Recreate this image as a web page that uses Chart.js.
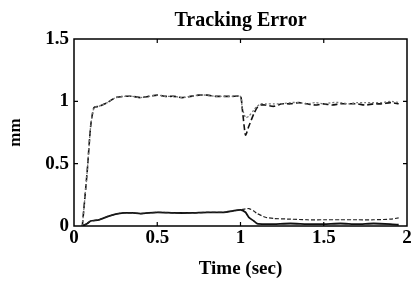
<!DOCTYPE html>
<html>
<head>
<meta charset="utf-8">
<script src="https://cdn.jsdelivr.net/npm/chart.js@4.4.1/dist/chart.umd.min.js"></script>
<style>
  body { margin: 0; background: #fff; }
  #chart { display: block; }
</style>
</head>
<body>
<canvas id="chart" width="411" height="284"></canvas>
<script>
// upper pair (dashed / dotted), time in sec, error in mm
const upperTime = [0.05, 0.08, 0.1, 0.12, 0.15, 0.2, 0.25, 0.3, 0.35, 0.4, 0.45, 0.5, 0.55, 0.6, 0.65, 0.7, 0.75, 0.8, 0.85, 0.9, 0.95, 1.0, 1.01, 1.03, 1.05, 1.08, 1.1, 1.12, 1.15, 1.2, 1.25, 1.3, 1.35, 1.4, 1.45, 1.5, 1.55, 1.6, 1.65, 1.7, 1.75, 1.8, 1.85, 1.9, 1.95];
const upperDashed = [0, 0.45, 0.8, 0.95, 0.96, 0.99, 1.03, 1.04, 1.04, 1.03, 1.04, 1.05, 1.04, 1.04, 1.03, 1.04, 1.05, 1.05, 1.04, 1.04, 1.04, 1.04, 0.95, 0.73, 0.8, 0.9, 0.95, 0.97, 0.97, 0.96, 0.98, 0.98, 0.99, 0.98, 0.97, 0.98, 0.97, 0.98, 0.98, 0.98, 0.97, 0.98, 0.98, 0.99, 0.98];
const upperDotted = [0, 0.45, 0.8, 0.95, 0.96, 0.99, 1.03, 1.04, 1.04, 1.03, 1.04, 1.05, 1.04, 1.04, 1.03, 1.04, 1.05, 1.05, 1.04, 1.04, 1.04, 1.04, 0.95, 0.87, 0.88, 0.93, 0.96, 0.98, 0.98, 0.98, 0.98, 0.99, 0.99, 0.98, 0.99, 0.98, 0.99, 0.99, 0.98, 0.99, 0.99, 0.99, 0.99, 1.0, 0.99];

// lower pair (solid / dashed)
const lowerTime = [0.05, 0.08, 0.1, 0.15, 0.2, 0.25, 0.3, 0.35, 0.4, 0.5, 0.6, 0.7, 0.8, 0.9, 0.95, 1.0, 1.03, 1.05, 1.08, 1.1, 1.15, 1.2, 1.3, 1.4, 1.5, 1.6, 1.7, 1.8, 1.9, 1.95];
const lowerSolid = [0, 0.02, 0.04, 0.05, 0.075, 0.095, 0.105, 0.105, 0.1, 0.11, 0.105, 0.105, 0.11, 0.11, 0.12, 0.13, 0.11, 0.07, 0.04, 0.02, 0.015, 0.015, 0.02, 0.015, 0.015, 0.02, 0.015, 0.02, 0.015, 0.01];
const lowerDashed = [0, 0.02, 0.04, 0.05, 0.075, 0.095, 0.105, 0.105, 0.1, 0.11, 0.105, 0.105, 0.11, 0.11, 0.12, 0.13, 0.138, 0.14, 0.12, 0.1, 0.07, 0.06, 0.055, 0.05, 0.05, 0.05, 0.05, 0.05, 0.055, 0.065];

const xTicks = [0, 0.5, 1, 1.5, 2];
const yTicks = [0, 0.5, 1, 1.5];

function pts(xs, ys) {
    let out = [];
    for (let i = 0; i < xs.length; i++) out.push({x: xs[i], y: ys[i]});
    return out;
}

const serif = "'Liberation Serif', 'DejaVu Serif', serif";

// box round the plot with ticks pointing inward on all four sides
const frame = {
    id: 'frame',
    afterDraw(chart) {
        const {ctx, chartArea: a, scales} = chart;
        ctx.save();
        ctx.strokeStyle = '#000';
        ctx.lineWidth = 1.5;
        ctx.strokeRect(a.left, a.top, a.right - a.left, a.bottom - a.top);
        ctx.lineWidth = 1.2;
        ctx.beginPath();
        xTicks.slice(1, -1).forEach(v => {
            let px = scales.x.getPixelForValue(v);
            ctx.moveTo(px, a.bottom); ctx.lineTo(px, a.bottom - 4);
            ctx.moveTo(px, a.top); ctx.lineTo(px, a.top + 4);
        });
        yTicks.slice(1, -1).forEach(v => {
            let py = scales.y.getPixelForValue(v);
            ctx.moveTo(a.left, py); ctx.lineTo(a.left + 4, py);
            ctx.moveTo(a.right, py); ctx.lineTo(a.right - 4, py);
        });
        ctx.stroke();
        ctx.restore();
    }
};

new Chart(document.getElementById('chart'), {
    type: 'line',
    data: {
        datasets: [
            {data: pts(upperTime, upperDotted), borderColor: '#777', borderWidth: 1.3, borderDash: [2, 2]},
            {data: pts(upperTime, upperDashed), borderColor: '#111', borderWidth: 1.6, borderDash: [6, 3]},
            {data: pts(lowerTime, lowerDashed), borderColor: '#222', borderWidth: 1.2, borderDash: [4, 2]},
            {data: pts(lowerTime, lowerSolid), borderColor: '#111', borderWidth: 1.8}
        ]
    },
    options: {
        responsive: false,
        animation: false,
        devicePixelRatio: 1,
        layout: { padding: { left: 0, right: 4, top: 0, bottom: 0 } },
        elements: { point: { radius: 0 }, line: { tension: 0.2 } },
        plugins: {
            legend: { display: false },
            tooltip: { enabled: false },
            title: {
                display: true,
                fullSize: false,
                text: 'Tracking Error',
                color: '#000',
                font: { family: serif, size: 20, weight: 'bold' },
                padding: { top: 9, bottom: 6 }
            }
        },
        scales: {
            x: {
                type: 'linear',
                min: 0, max: 2,
                afterBuildTicks: s => { s.ticks = xTicks.map(v => ({value: v})); },
                ticks: {
                    color: '#000', padding: 1, maxRotation: 0,
                    callback: v => String(v),
                    font: { family: serif, size: 19, weight: 'bold' }
                },
                grid: { display: false, drawTicks: false },
                border: { display: false },
                title: {
                    display: true, text: 'Time (sec)', color: '#000',
                    font: { family: serif, size: 19, weight: 'bold' },
                    padding: { top: 0, bottom: 4 }
                },
                afterFit: s => { s.height = 58; s.paddingLeft = 0; s.paddingRight = 0; }
            },
            y: {
                min: 0, max: 1.5,
                afterBuildTicks: s => { s.ticks = yTicks.map(v => ({value: v})); },
                ticks: {
                    color: '#000', padding: 5,
                    callback: v => String(v),
                    font: { family: serif, size: 19, weight: 'bold' }
                },
                grid: { display: false, drawTicks: false },
                border: { display: false },
                title: {
                    display: true, text: 'mm', color: '#000',
                    font: { family: serif, size: 17, weight: 'bold' },
                    padding: { top: 5, bottom: 0 }
                },
                afterFit: s => { s.width = 74; s.paddingTop = 0; s.paddingBottom = 0; }
            }
        }
    },
    plugins: [frame]
});
</script>
</body>
</html>
